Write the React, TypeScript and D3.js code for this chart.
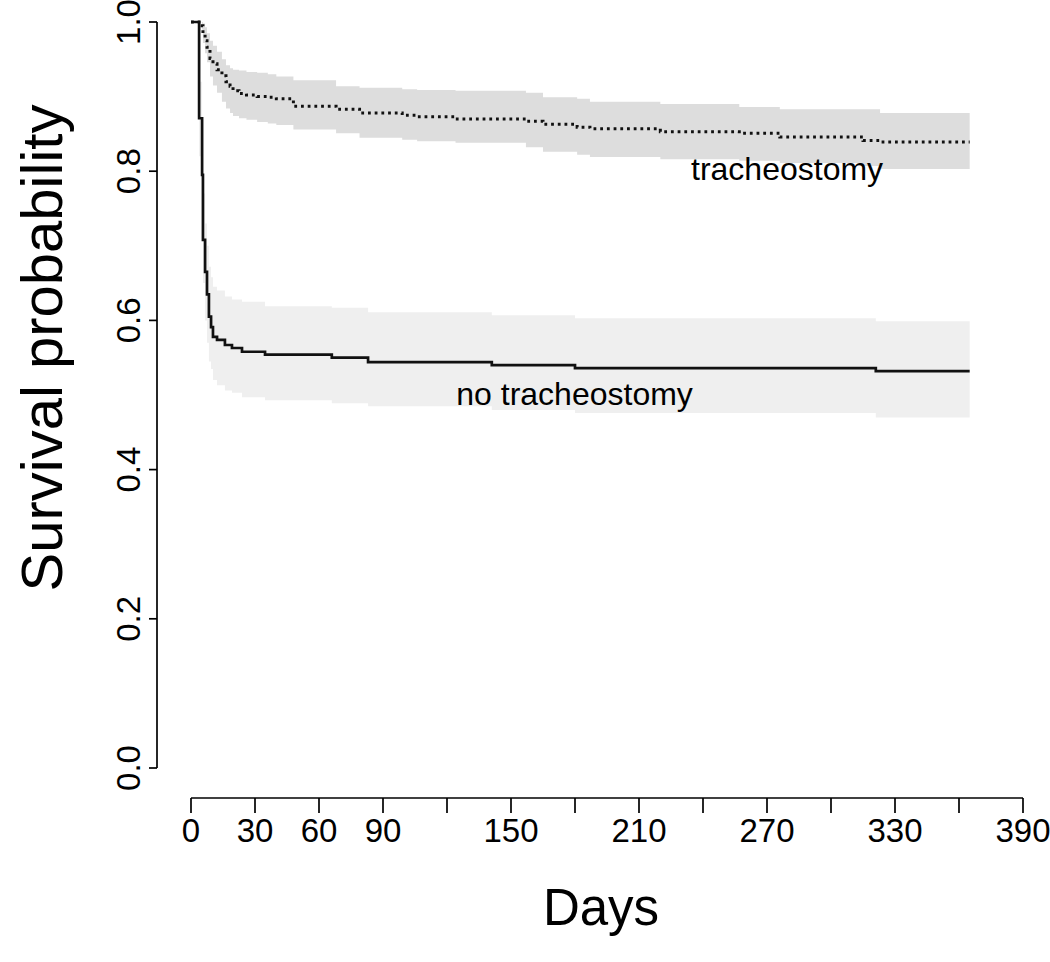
import React from "react";
import * as d3 from "d3";

// ---- Data ----
const noTrachTimes = [0, 3.8, 5.2, 5.6, 6.6, 7.5, 8.4, 9.4, 10.3, 12.2, 15.9, 19.2, 23.9, 34.7, 66, 83, 141, 180, 321];
const noTrachSurv = [1, 0.871, 0.795, 0.708, 0.665, 0.635, 0.605, 0.591, 0.578, 0.574, 0.567, 0.563, 0.558, 0.554, 0.55, 0.544, 0.54, 0.536, 0.532];
const noTrachUpper = [1, 0.92, 0.85, 0.77, 0.73, 0.7, 0.672, 0.658, 0.645, 0.64, 0.632, 0.628, 0.625, 0.619, 0.617, 0.611, 0.607, 0.603, 0.599];
const noTrachLower = [1, 0.82, 0.74, 0.65, 0.6, 0.57, 0.545, 0.535, 0.52, 0.513, 0.506, 0.503, 0.497, 0.493, 0.489, 0.485, 0.48, 0.476, 0.47];

const trachTimes = [0, 5.2, 5.6, 6.6, 7.5, 8.9, 10.3, 12.2, 14.5, 16.4, 18.3, 19.7, 22.5, 26, 31, 36, 40, 48, 68, 79, 99, 106, 124, 157, 165, 181, 187, 220, 257, 276, 315, 323];
const trachSurv = [1, 0.995, 0.985, 0.975, 0.966, 0.951, 0.944, 0.936, 0.928, 0.92, 0.914, 0.908, 0.904, 0.902, 0.9, 0.899, 0.897, 0.887, 0.883, 0.878, 0.875, 0.873, 0.87, 0.867, 0.863, 0.859, 0.857, 0.853, 0.851, 0.846, 0.841, 0.839];
const trachUpper = [1, 1, 0.998, 0.993, 0.985, 0.975, 0.968, 0.96, 0.95, 0.942, 0.938, 0.936, 0.935, 0.933, 0.932, 0.93, 0.927, 0.922, 0.914, 0.912, 0.91, 0.909, 0.908, 0.905, 0.899, 0.897, 0.893, 0.89, 0.886, 0.883, 0.883, 0.878];
const trachLower = [1, 0.99, 0.972, 0.958, 0.946, 0.927, 0.915, 0.905, 0.893, 0.884, 0.878, 0.874, 0.871, 0.869, 0.866, 0.864, 0.862, 0.856, 0.851, 0.845, 0.842, 0.84, 0.838, 0.832, 0.826, 0.822, 0.819, 0.816, 0.814, 0.811, 0.807, 0.803];

const followUpEnd = 365;

const xTicks = [0, 30, 60, 90, 120, 150, 180, 210, 240, 270, 300, 330, 360, 390];
const xTickLabels = ["0", "30", "60", "90", "150", "210", "270", "330", "390"];
const yTicks = [0, 0.2, 0.4, 0.6, 0.8, 1.0];

const curveLabels = [
  { text: "tracheostomy", day: 279.4, surv: 0.788 },
  { text: "no tracheostomy", day: 179.8, surv: 0.4866 },
];

type Pt = { t: number; s: number; lo: number; hi: number };

function build(times: number[], s: number[], lo: number[], hi: number[]): Pt[] {
  const pts = times.map((t, i) => ({ t, s: s[i], lo: lo[i], hi: hi[i] }));
  const last = pts[pts.length - 1];
  pts.push({ ...last, t: followUpEnd });
  return pts;
}

export default function App() {
  const W = 1050;
  const H = 962;
  const x = d3.scaleLinear().domain([0, 390]).range([191, 1023]);
  const y = d3.scaleLinear().domain([0, 1]).range([768, 22]);
  const font = "'Liberation Sans', Arial, Helvetica, sans-serif";

  const noT = build(noTrachTimes, noTrachSurv, noTrachLower, noTrachUpper);
  const tr = build(trachTimes, trachSurv, trachLower, trachUpper);

  const line = d3
    .line<Pt>()
    .x((d) => x(d.t))
    .y((d) => y(d.s))
    .curve(d3.curveStepAfter);
  const area = d3
    .area<Pt>()
    .x((d) => x(d.t))
    .y0((d) => y(d.lo))
    .y1((d) => y(d.hi))
    .curve(d3.curveStepAfter);

  const axisX = 798;
  const axisY = 157;

  return (
    <svg
      width={W}
      height={H}
      style={{ position: "absolute", left: 0, top: 0, background: "#fff" }}
      fontFamily={font}
    >
      <rect x={0} y={0} width={W} height={H} fill="#fff" />
      {/* confidence bands */}
      <path d={area(noT) || ""} fill="#efefef" />
      <path d={area(tr) || ""} fill="#dddddd" />
      {/* curves */}
      <path d={line(noT) || ""} fill="none" stroke="#111" strokeWidth={2.7} />
      <path
        d={line(tr) || ""}
        fill="none"
        stroke="#111"
        strokeWidth={3}
        strokeDasharray="2.8 3.9"
      />
      {/* curve labels */}
      {curveLabels.map((l) => (
        <text key={l.text} x={x(l.day)} y={y(l.surv)} textAnchor="middle" fontSize={32} fill="#000">
          {l.text}
        </text>
      ))}
      {/* y axis */}
      <line x1={axisY} x2={axisY} y1={y(0)} y2={y(1)} stroke="#000" strokeWidth={1.7} />
      {yTicks.map((v) => (
        <g key={v}>
          <line x1={axisY - 8} x2={axisY} y1={y(v)} y2={y(v)} stroke="#000" strokeWidth={1.7} />
          <text
            transform={`translate(140,${y(v)}) rotate(-90)`}
            textAnchor="middle"
            fontSize={33}
            fill="#000"
          >
            {v.toFixed(1)}
          </text>
        </g>
      ))}
      {/* x axis */}
      <line x1={x(0)} x2={x(390)} y1={axisX} y2={axisX} stroke="#000" strokeWidth={1.7} />
      {xTicks.map((v) => (
        <line key={v} x1={x(v)} x2={x(v)} y1={axisX} y2={axisX + 15} stroke="#000" strokeWidth={1.7} />
      ))}
      {xTickLabels.map((lab) => (
        <text key={lab} x={x(+lab)} y={842} textAnchor="middle" fontSize={33} fill="#000">
          {lab}
        </text>
      ))}
      {/* axis titles */}
      <text
        transform={`translate(62,348) rotate(-90)`}
        textAnchor="middle"
        fontSize={58}
        fill="#000"
      >
        Survival probability
      </text>
      <text x={601} y={925} textAnchor="middle" fontSize={51} fill="#000">
        Days
      </text>
    </svg>
  );
}
